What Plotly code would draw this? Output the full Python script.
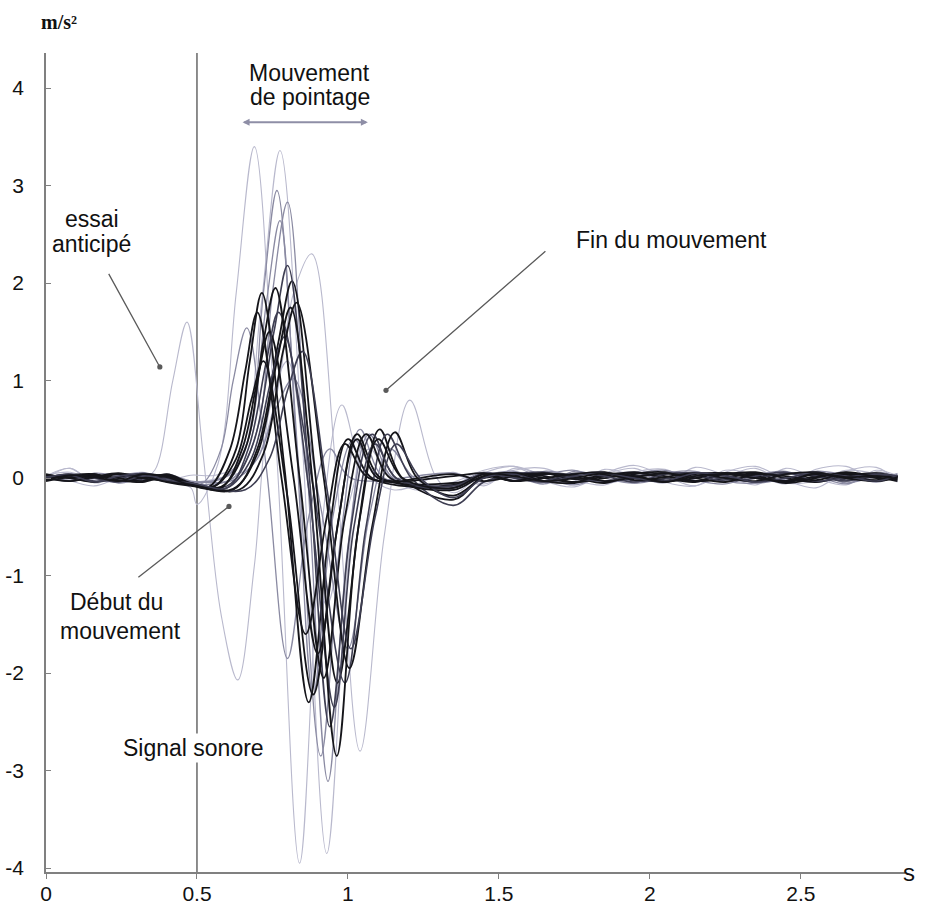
import plotly.graph_objects as go

# Shared time grids (s) for the resting parts of each trial
PRE_T = [0.00, 0.08, 0.16, 0.24, 0.32, 0.40, 0.48]
POST_T = [1.35, 1.45, 1.55, 1.65, 1.75, 1.85, 1.95, 2.05, 2.15, 2.25, 2.35, 2.45, 2.55, 2.65, 2.75, 2.82]

SIGNAL_T = 0.5
X_TICKS = [0, 0.5, 1, 1.5, 2, 2.5]
X_LABELS = ["0", "0.5", "1", "1.5", "2", "2.5"]
Y_TICKS = [-4, -3, -2, -1, 0, 1, 2, 3, 4]
Y_LABELS = ["-4", "-3", "-2", "-1", "0", "1", "2", "3", "4"]

# ---- light trials -------------------------------------------------------
L1_PRE = [0.03, 0.06, -0.02, -0.04, 0.02, -0.03, -0.10]
L1_MT = [0.50, 0.57, 0.63, 0.69, 0.765, 0.84, 0.91, 0.98, 1.05, 1.15]
L1_MV = [-0.27, 0.15, 1.90, 3.40, 0.20, -3.95, -0.60, 0.75, 0.10, -0.12]
L1_POST = [0.06, -0.08, 0.10, 0.03, -0.06, 0.09, 0.02, -0.05, 0.11, 0.03, -0.07, 0.10, 0.00, -0.07, 0.08, 0.02]

L2_PRE = [0.00, 0.10, -0.05, 0.02, 0.06, -0.02, 0.03]
L2_MT = [0.56, 0.64, 0.71, 0.775, 0.85, 0.93, 1.00, 1.06, 1.13, 1.22]
L2_MV = [0.03, 0.15, 1.70, 3.36, 0.30, -3.85, -0.90, 0.45, 0.05, -0.12]
L2_POST = [-0.04, 0.08, 0.12, -0.03, -0.09, 0.05, 0.13, 0.02, -0.08, 0.06, 0.12, -0.02, -0.10, 0.07, 0.11, -0.03]

L3_PRE = [0.01, -0.03, -0.08, 0.00, 0.04, 0.02, -0.04]
L3_MT = [0.60, 0.68, 0.76, 0.82, 0.88, 0.96, 1.04, 1.12, 1.205, 1.29]
L3_MV = [0.02, 0.12, 0.80, 1.90, 2.30, 0.10, -2.80, -0.60, 0.80, 0.02]
L3_POST = [-0.15, 0.05, 0.12, 0.02, -0.06, 0.04, 0.10, -0.04, -0.08, 0.08, 0.03, -0.06, 0.09, 0.12, -0.02, 0.05]

# anticipated trial
L4_PRE = [0.02, 0.10, -0.04, 0.03]
L4_MT = [0.32, 0.36, 0.42, 0.467, 0.52, 0.58, 0.635, 0.69, 0.74, 0.80, 0.86, 0.93, 1.00, 1.07, 1.15]
L4_MV = [0.00, 0.08, 1.00, 1.60, 0.25, -1.40, -2.07, -0.90, 0.70, 1.20, 0.10, -1.30, -0.30, 0.30, 0.00]
L4_POST = [0.04, -0.06, 0.08, 0.10, -0.02, -0.07, 0.06, 0.09, -0.04, 0.02, 0.10, -0.05, -0.03, 0.08, 0.04, -0.04]

# ---- medium trials ------------------------------------------------------
M1_PRE = [0.02, -0.02, 0.04, -0.05, 0.00, 0.03, -0.04]
M1_MT = [0.60, 0.67, 0.72, 0.765, 0.835, 0.91, 0.98, 1.04, 1.12]
M1_MV = [0.02, 0.40, 1.90, 2.95, 0.20, -2.85, -0.50, 0.50, 0.00]
M1_POST = [-0.08, 0.05, 0.02, -0.06, 0.07, 0.00, -0.05, 0.06, 0.03, -0.04, 0.05, -0.02, 0.06, -0.05, 0.02, 0.04]

M2_PRE = [-0.02, 0.03, 0.00, 0.04, -0.03, 0.02, -0.06]
M2_MT = [0.62, 0.70, 0.75, 0.80, 0.865, 0.934, 1.00, 1.07, 1.15]
M2_MV = [0.00, 0.50, 1.90, 2.83, 0.10, -3.11, -0.70, 0.45, 0.00]
M2_POST = [-0.10, 0.04, -0.03, 0.07, 0.02, -0.05, 0.04, 0.08, -0.02, -0.06, 0.03, 0.07, -0.04, 0.02, 0.05, -0.02]

M3_PRE = [0.03, 0.01, -0.04, 0.02, 0.05, -0.01, -0.05]
M3_MT = [0.60, 0.67, 0.73, 0.775, 0.83, 0.885, 0.95, 1.02, 1.10]
M3_MV = [0.03, 0.40, 1.80, 2.64, 0.30, -2.22, -0.40, 0.40, 0.02]
M3_POST = [-0.06, 0.06, -0.02, 0.03, 0.08, -0.04, 0.00, 0.05, 0.07, -0.03, -0.05, 0.04, 0.02, -0.06, 0.06, 0.01]

M4_PRE = [0.00, 0.04, 0.02, -0.03, 0.03, -0.04, -0.06]
M4_MT = [0.52, 0.58, 0.62, 0.665, 0.73, 0.80, 0.87, 0.94, 1.01]
M4_MV = [-0.05, 0.30, 1.00, 1.54, 0.10, -1.85, -0.40, 0.30, 0.00]
M4_POST = [0.05, -0.04, 0.06, 0.00, -0.07, 0.03, 0.06, -0.03, 0.02, 0.05, -0.05, 0.00, 0.07, 0.03, -0.04, 0.02]

M5_PRE = [0.01, -0.03, 0.05, 0.02, -0.02, 0.04, -0.03]
M5_MT = [0.62, 0.70, 0.76, 0.82, 0.91, 1.00, 1.07, 1.14, 1.22]
M5_MV = [-0.02, 0.20, 0.70, 1.02, -0.30, -1.75, -0.40, 0.30, 0.00]
M5_POST = [-0.12, 0.02, 0.07, -0.03, 0.04, 0.06, -0.05, 0.01, 0.06, 0.00, -0.04, 0.05, 0.03, -0.03, 0.01, 0.03]

# ---- dark trials --------------------------------------------------------
D1_PRE = [0.02, 0.00, -0.04, 0.01, 0.04, -0.03, -0.07]
D1_MT = [0.56, 0.63, 0.675, 0.715, 0.79, 0.87, 0.94, 1.00, 1.08]
D1_MV = [-0.08, 0.30, 1.20, 1.90, 0.10, -2.30, -0.50, 0.40, 0.00]
D1_POST = [-0.07, 0.04, -0.03, 0.05, 0.01, -0.05, 0.04, 0.06, -0.03, 0.00, 0.05, -0.04, 0.02, 0.04, -0.03, 0.01]

D2_PRE = [0.00, 0.03, 0.04, -0.03, 0.00, 0.03, -0.06]
D2_MT = [0.62, 0.70, 0.77, 0.815, 0.89, 0.965, 1.04, 1.105, 1.18]
D2_MV = [-0.12, 0.30, 1.40, 2.02, 0.10, -2.10, -0.40, 0.50, 0.00]
D2_POST = [-0.22, 0.02, 0.05, -0.03, -0.05, 0.02, 0.06, 0.00, -0.04, 0.05, 0.02, -0.05, 0.00, 0.06, 0.01, -0.03]

D3_PRE = [0.01, -0.03, 0.02, 0.04, -0.02, 0.00, -0.05]
D3_MT = [0.60, 0.68, 0.755, 0.80, 0.87, 0.94, 1.01, 1.08, 1.16]
D3_MV = [-0.08, 0.30, 1.50, 2.18, 0.10, -2.55, -0.50, 0.45, 0.00]
D3_POST = [-0.10, 0.05, 0.00, -0.04, 0.04, 0.05, -0.03, -0.01, 0.05, 0.02, -0.04, 0.04, 0.05, -0.02, 0.02, 0.00]

D4_PRE = [-0.02, 0.03, 0.00, 0.04, 0.02, -0.04, -0.08]
D4_MT = [0.58, 0.65, 0.70, 0.74, 0.82, 0.90, 0.97, 1.03, 1.11]
D4_MV = [-0.10, 0.30, 1.00, 1.50, 0.00, -1.80, -0.40, 0.45, 0.00]
D4_POST = [-0.05, 0.00, 0.05, 0.02, -0.04, 0.00, 0.05, 0.02, -0.03, 0.04, 0.06, 0.00, -0.04, 0.02, 0.05, 0.01]

D5_PRE = [0.00, 0.04, -0.03, -0.01, 0.05, 0.01, -0.06]
D5_MT = [0.60, 0.67, 0.73, 0.77, 0.88, 0.99, 1.06, 1.13, 1.21]
D5_MV = [-0.10, 0.30, 1.20, 1.70, 0.00, -2.10, -0.50, 0.45, 0.00]
D5_POST = [-0.28, -0.04, 0.04, 0.06, 0.00, -0.03, 0.02, 0.05, 0.03, -0.03, 0.00, 0.05, 0.02, -0.03, 0.04, 0.02]

D6_PRE = [0.03, 0.01, 0.04, -0.03, 0.01, 0.03, -0.07]
D6_MT = [0.56, 0.63, 0.68, 0.72, 0.80, 0.885, 0.96, 1.03, 1.10]
D6_MV = [-0.08, 0.20, 0.80, 1.20, -0.20, -2.22, -0.60, 0.40, 0.00]
D6_POST = [0.04, -0.03, 0.02, 0.05, -0.01, 0.02, 0.00, -0.04, 0.04, 0.05, 0.00, -0.03, 0.04, 0.00, -0.03, 0.02]

D7_PRE = [-0.03, 0.01, 0.03, 0.00, -0.03, 0.04, -0.05]
D7_MT = [0.64, 0.72, 0.785, 0.83, 0.92, 1.005, 1.08, 1.155, 1.23]
D7_MV = [-0.12, 0.25, 1.30, 1.80, 0.00, -1.95, -0.50, 0.47, 0.00]
D7_POST = [-0.18, 0.01, 0.05, 0.00, -0.04, 0.04, 0.02, -0.03, 0.00, 0.05, 0.02, -0.03, 0.01, 0.05, 0.00, -0.01]

D8_PRE = [0.01, 0.04, 0.00, -0.04, 0.02, 0.00, -0.06]
D8_MT = [0.60, 0.68, 0.745, 0.79, 0.87, 0.955, 1.02, 1.09, 1.16]
D8_MV = [-0.10, 0.20, 1.00, 1.45, -0.10, -2.35, -0.50, 0.35, 0.00]
D8_POST = [-0.08, 0.04, 0.01, -0.03, 0.05, 0.02, -0.04, 0.04, 0.05, -0.01, 0.02, 0.06, -0.03, 0.01, 0.04, 0.00]

D9_PRE = [0.00, -0.03, 0.01, 0.05, 0.00, -0.03, -0.06]
D9_MT = [0.58, 0.66, 0.72, 0.76, 0.84, 0.92, 0.99, 1.06, 1.14]
D9_MV = [-0.09, 0.30, 1.40, 1.95, 0.00, -2.05, -0.40, 0.45, 0.00]
D9_POST = [-0.12, 0.02, -0.03, 0.04, 0.03, -0.03, 0.01, 0.05, 0.00, -0.04, 0.04, 0.02, -0.02, 0.05, 0.02, 0.01]

D10_PRE = [0.04, 0.00, 0.02, -0.02, -0.04, 0.02, -0.07]
D10_MT = [0.54, 0.61, 0.66, 0.70, 0.78, 0.86, 0.93, 0.99, 1.07]
D10_MV = [-0.09, 0.30, 1.10, 1.70, 0.00, -1.60, -0.40, 0.35, 0.00]
D10_POST = [0.02, 0.05, -0.03, 0.00, 0.04, 0.06, -0.02, 0.01, 0.05, 0.00, -0.03, 0.04, 0.06, 0.00, -0.02, 0.02]

D11_PRE = [0.01, 0.03, -0.04, 0.02, 0.04, -0.02, -0.05]
D11_MT = [0.66, 0.74, 0.80, 0.85, 0.93, 1.01, 1.09, 1.16, 1.24]
D11_MV = [-0.12, 0.20, 0.90, 1.30, -0.10, -1.75, -0.40, 0.35, 0.00]
D11_POST = [-0.20, 0.00, 0.04, -0.04, 0.02, 0.05, 0.00, -0.03, 0.05, 0.03, -0.04, 0.00, 0.05, 0.02, -0.03, 0.03]

D12_PRE = [-0.02, 0.03, 0.01, -0.03, 0.04, 0.01, -0.07]
D12_MT = [0.62, 0.70, 0.765, 0.81, 0.885, 0.963, 1.03, 1.10, 1.18]
D12_MV = [-0.11, 0.25, 1.20, 1.75, -0.10, -2.85, -0.60, 0.40, 0.00]
D12_POST = [-0.10, 0.04, 0.02, -0.03, 0.00, 0.05, 0.02, -0.04, 0.02, 0.04, 0.00, -0.03, 0.05, 0.01, 0.02, -0.01]

LIGHT = "#b9b9cd"
MEDIUM = "#8a8aa2"
DARK = "#15151a"
DARK_GREY = "#3e3e52"

trials = [
    (L1_PRE, L1_MT, L1_MV, L1_POST, LIGHT, 1.1),
    (L2_PRE, L2_MT, L2_MV, L2_POST, LIGHT, 1.1),
    (L3_PRE, L3_MT, L3_MV, L3_POST, LIGHT, 1.1),
    (L4_PRE, L4_MT, L4_MV, L4_POST, LIGHT, 1.1),
    (M1_PRE, M1_MT, M1_MV, M1_POST, MEDIUM, 1.3),
    (M2_PRE, M2_MT, M2_MV, M2_POST, MEDIUM, 1.3),
    (M3_PRE, M3_MT, M3_MV, M3_POST, MEDIUM, 1.3),
    (M4_PRE, M4_MT, M4_MV, M4_POST, MEDIUM, 1.3),
    (M5_PRE, M5_MT, M5_MV, M5_POST, MEDIUM, 1.3),
    (D1_PRE, D1_MT, D1_MV, D1_POST, DARK, 1.8),
    (D2_PRE, D2_MT, D2_MV, D2_POST, DARK, 1.8),
    (D3_PRE, D3_MT, D3_MV, D3_POST, DARK_GREY, 1.6),
    (D4_PRE, D4_MT, D4_MV, D4_POST, DARK, 1.8),
    (D5_PRE, D5_MT, D5_MV, D5_POST, DARK_GREY, 1.6),
    (D6_PRE, D6_MT, D6_MV, D6_POST, DARK, 1.8),
    (D7_PRE, D7_MT, D7_MV, D7_POST, DARK, 1.8),
    (D8_PRE, D8_MT, D8_MV, D8_POST, DARK_GREY, 1.6),
    (D9_PRE, D9_MT, D9_MV, D9_POST, DARK, 1.8),
    (D10_PRE, D10_MT, D10_MV, D10_POST, DARK, 1.8),
    (D11_PRE, D11_MT, D11_MV, D11_POST, DARK_GREY, 1.6),
    (D12_PRE, D12_MT, D12_MV, D12_POST, DARK, 1.8),
]

fig = go.Figure()
for pre, mt, mv, post, color, width in trials:
    xs = PRE_T[:len(pre)] + mt + POST_T
    ys = pre + mv + post
    fig.add_trace(go.Scatter(
        x=xs, y=ys, mode="lines",
        line=dict(color=color, width=width, shape="spline", smoothing=1.0),
        hoverinfo="skip", showlegend=False,
    ))

# sound signal marker
fig.add_shape(type="line", xref="x", yref="paper", x0=SIGNAL_T, x1=SIGNAL_T, y0=0, y1=1,
              line=dict(color="#505050", width=1.3), layer="below")

TXT = dict(family="Liberation Sans, Arial, sans-serif", size=23, color="#111111")

annotations = [
    dict(x=0.874, y=4.15, text="Mouvement"),
    dict(x=0.874, y=3.91, text="de pointage"),
    dict(x=0.152, y=2.66, text="essai"),
    dict(x=0.152, y=2.40, text="anticipé"),
    dict(x=2.073, y=2.44, text="Fin du mouvement"),
    dict(x=0.235, y=-1.27, text="Début du"),
    dict(x=0.248, y=-1.57, text="mouvement"),
    dict(x=0.490, y=-2.77, text="Signal sonore", bgcolor="white"),
]
for a in annotations:
    fig.add_annotation(xref="x", yref="y", showarrow=False, font=TXT, **a)

# pointer lines
pointers = [
    (0.377, 1.14, 0.205, 2.11),
    (1.126, 0.90, 1.659, 2.34),
    (0.606, -0.29, 0.301, -1.03),
]
for hx, hy, tx, ty in pointers:
    fig.add_annotation(x=hx, y=hy, ax=tx, ay=ty, xref="x", yref="y", axref="x", ayref="y",
                       text="", showarrow=True, arrowhead=6, arrowsize=1.0,
                       arrowwidth=1.3, arrowcolor="#5a5a5a", standoff=0)

# movement duration double arrow
fig.add_annotation(x=1.066, y=3.65, ax=0.646, ay=3.65, xref="x", yref="y", axref="x", ayref="y",
                   text="", showarrow=True, arrowhead=2, startarrowhead=2, arrowside="end+start",
                   arrowsize=0.7, arrowwidth=2, arrowcolor="#8e8ea6", standoff=0, startstandoff=0)

# unit labels
fig.add_annotation(xref="paper", yref="paper", x=-0.008, y=1.038, yanchor="middle", text="<b>m/s²</b>",
                   showarrow=False,
                   font=dict(family="Liberation Serif, Times New Roman, serif", size=20, color="#111111"))
fig.add_annotation(xref="paper", yref="paper", x=1.014, y=0.0, yanchor="middle", text="s", showarrow=False,
                   font=dict(family="Liberation Sans, Arial, sans-serif", size=24, color="#111111"))

TICKFONT = dict(family="Liberation Sans, Arial, sans-serif", size=21, color="#111111")

fig.update_layout(
    width=927, height=911,
    margin=dict(l=46, r=22, t=53, b=39, autoexpand=False),
    paper_bgcolor="white", plot_bgcolor="white",
    showlegend=False,
    xaxis=dict(range=[0, 2.845], tickvals=X_TICKS, ticktext=X_LABELS, showgrid=False, zeroline=False,
               showline=True, linecolor="#808080", linewidth=1.5, ticks="outside", ticklen=5,
               tickcolor="#808080", tickfont=TICKFONT, ticklabelstandoff=-3, automargin=False),
    yaxis=dict(range=[-4.04, 4.36], tickvals=Y_TICKS, ticktext=Y_LABELS, showgrid=False, zeroline=False,
               showline=True, linecolor="#808080", linewidth=1.5, ticks="inside", ticklen=5,
               tickcolor="#808080", tickfont=TICKFONT, ticklabelstandoff=16, automargin=False),
)

fig.write_html("out.html")
